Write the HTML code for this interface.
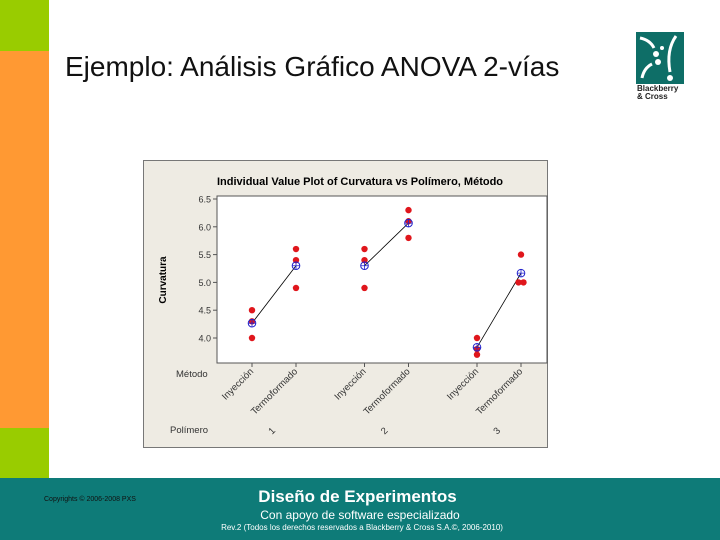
<!DOCTYPE html>
<html><head><meta charset="utf-8"><style>
body{margin:0;width:720px;height:540px;position:relative;background:#fff;font-family:"Liberation Sans",sans-serif;overflow:hidden}
div{position:absolute}
</style></head><body>
<div style="left:0;top:0;width:49px;height:51px;background:#99cc00"></div>
<div style="left:0;top:51px;width:49px;height:377px;background:#ff9933"></div>
<div style="left:0;top:428px;width:49px;height:50px;background:#99cc00"></div>
<div style="left:65px;top:51px;font-size:28px;color:#111;white-space:nowrap">Ejemplo: Análisis Gráfico ANOVA 2-vías</div>
<div style="left:636px;top:32px;width:48px;height:52px;background:#0e6e67"></div>
<svg style="position:absolute;left:636px;top:32px" width="48" height="52"><path d="M4 6 Q14 8 18 16 M40 4 Q30 18 34 40 M6 46 Q8 36 16 32" stroke="#fff" stroke-width="3" fill="none"/><circle cx="20" cy="22" r="3" fill="#fff"/><circle cx="26" cy="16" r="2" fill="#fff"/><circle cx="22" cy="30" r="3" fill="#fff"/><circle cx="34" cy="46" r="3" fill="#fff"/></svg>
<div style="left:637px;top:85px;font-size:8px;font-weight:bold;line-height:8px;color:#222">Blackberry<br>&amp; Cross</div>
<svg style="position:absolute;left:0;top:0" width="720" height="540">
<rect x="143.5" y="160.5" width="404" height="287" fill="#eeebe3" stroke="#777"/>
<rect x="217" y="196" width="330" height="167" fill="#fff" stroke="#555"/>
<text x="360" y="185" text-anchor="middle" font-size="11" font-weight="bold" font-family="Liberation Sans, sans-serif">Individual Value Plot of Curvatura vs Polímero, Método</text>
<text transform="translate(166,280) rotate(-90)" text-anchor="middle" font-size="10" font-weight="bold" font-family="Liberation Sans">Curvatura</text>
<g id="g"></g>
<text x="176" y="377" font-size="9.5" fill="#333" font-family="Liberation Sans">Método</text>
<text x="170" y="433" font-size="9.5" fill="#333" font-family="Liberation Sans">Polímero</text>
</svg>
<div style="left:0;top:478px;width:720px;height:62px;background:#0e7b78"></div>
<div style="left:44px;top:496px;font-size:7px;color:#111">Copyrights © 2006-2008 PXS</div>
<div style="left:0;width:715px;text-align:center;top:487px;font-size:17px;font-weight:bold;color:#fff">Diseño de Experimentos</div>
<div style="left:0;width:720px;text-align:center;top:508px;font-size:12px;color:#fff">Con apoyo de software especializado</div>
<div style="left:0;width:724px;text-align:center;top:523px;font-size:8px;color:#fff">Rev.2 (Todos los derechos reservados a Blackberry &amp; Cross S.A.©, 2006-2010)</div>
<script>
const groups=["1-Inyección","1-Termoformado","2-Inyección","2-Termoformado","3-Inyección","3-Termoformado"];
const polimeros=["1","2","3"];
const metodos=["Inyección","Termoformado"];
const values=[[4.5,4.3,4.0],[5.6,5.4,4.9],[5.6,5.4,4.9],[6.3,6.1,5.8],[4.0,3.8,3.7],[5.5,5.0,5.0]];
const yTicks=[4.0,4.5,5.0,5.5,6.0,6.5];
const NS="http://www.w3.org/2000/svg",g=document.getElementById('g');
const yS=v=>338-(v-4.0)*(139/2.5);
const xS=i=>{const p=Math.floor(i/2),m=i%2;return 252+p*112.5+m*44;};
function mk(t,a){const e=document.createElementNS(NS,t);for(const k in a)e.setAttribute(k,a[k]);g.appendChild(e);return e;}
yTicks.forEach(v=>{const y=yS(v);
 const l=mk('line',{x1:213,x2:217,y1:y,y2:y,stroke:'#555'});
 
 
 const t=mk('text',{x:211,y:y+3.5,'text-anchor':'end','font-size':9,fill:'#333','font-family':'Liberation Sans'});
 t.textContent=v.toFixed(1);
 
 });
const means=values.map(a=>a.reduce((s,v)=>s+v,0)/a.length);
for(let i=0;i<groups.length;i+=2){
 const l=mk('line',{x1:xS(i),y1:yS(means[i]),x2:xS(i+1),y2:yS(means[i+1]),stroke:'#000','stroke-width':0.8});
 
 }
groups.forEach((gname,i)=>{const x=xS(i);
 const tk=mk('line',{x1:x,x2:x,y1:363,y2:367,stroke:'#555'});
 
 
 const cnt={};
 values[i].forEach(v=>{cnt[v]=(cnt[v]||0)+1;});
 const seen={};
 values[i].forEach(v=>{let dx=0;if(cnt[v]>1){dx=(seen[v]||0)*5-2.5;seen[v]=(seen[v]||0)+1;}
  const c=mk('circle',{cx:x+dx,cy:yS(v),r:3.2,fill:'#e0161c'});
  
  });
 const m=mk('circle',{cx:x,cy:yS(means[i]),r:3.8,fill:'none',stroke:'#2222cc','stroke-width':1});
 
 
 const mh=mk('path',{d:`M${x-3.8} ${yS(means[i])}h7.6M${x} ${yS(means[i])-3.8}v7.6`,stroke:'#2222cc','stroke-width':0.8});
 
 
 const t=mk('text',{transform:`translate(${x+2},372) rotate(-45)`,'text-anchor':'end','font-size':9.5,fill:'#333','font-family':'Liberation Sans'});
 t.textContent=metodos[i%2];
 
 });
polimeros.forEach((p,k)=>{const x=(xS(2*k)+xS(2*k+1))/2;
 const t=mk('text',{transform:`translate(${x},433) rotate(-45)`,'text-anchor':'middle','font-size':9.5,fill:'#333','font-family':'Liberation Sans'});
 t.textContent=p;
 
 });
</script>
</body></html>
